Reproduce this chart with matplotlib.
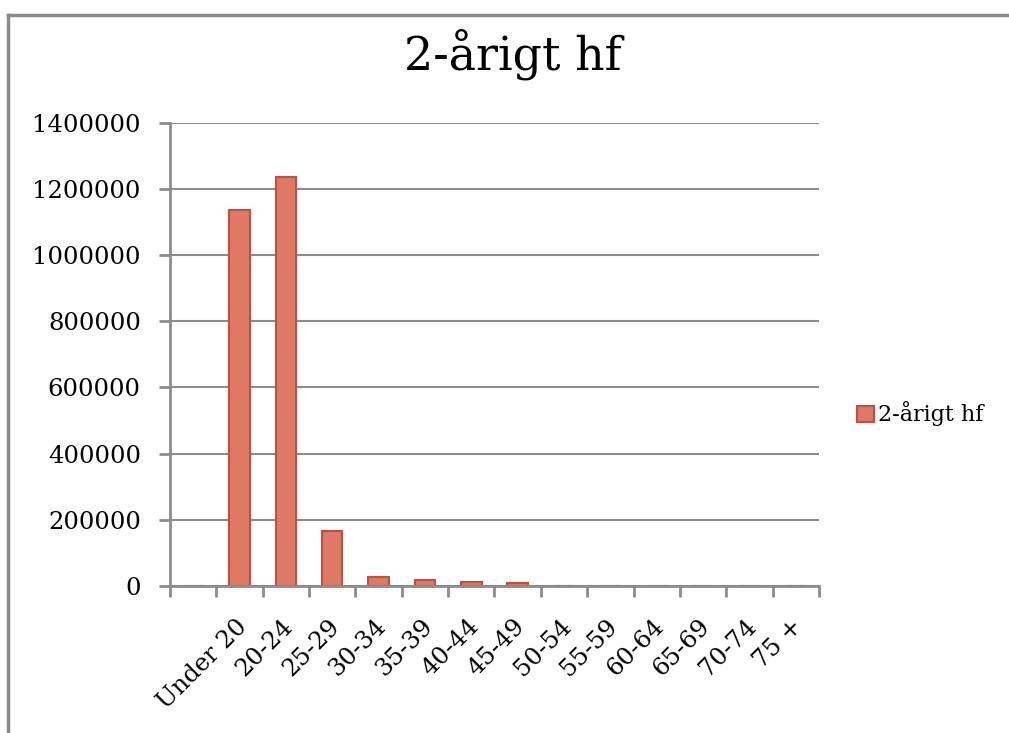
import matplotlib
matplotlib.use("Agg")
import matplotlib.pyplot as plt
from matplotlib.lines import Line2D
from matplotlib.patches import Patch

categories = ["", "Under 20", "20-24", "25-29", "30-34", "35-39", "40-44", "45-49",
              "50-54", "55-59", "60-64", "65-69", "70-74", "75 +"]
values = [0, 1136000, 1236000, 166000, 28000, 17000, 11000, 9000, 0, 0, 0, 0, 0, 0]
yticks = [0, 200000, 400000, 600000, 800000, 1000000, 1200000, 1400000]
series_name = "2-årigt hf"
title = "2-årigt hf"

FONT = ["DejaVu Serif"]
plt.rcParams["font.family"] = FONT

W, H = 1009, 733
fig = plt.figure(figsize=(W / 100, H / 100), dpi=100)
fig.patch.set_facecolor("white")

left, right, top, bottom = 170, 819, 122.7, 586
ax = fig.add_axes([left / W, 1 - bottom / H, (right - left) / W, (bottom - top) / H])

n = len(categories)
x = list(range(n))
fill = "#E07866"
edge = "#BD533F"
ax.bar(x, values, width=0.44, color=fill, edgecolor=edge, linewidth=1.5, zorder=2)

ax.set_xlim(-0.5, n - 0.5)
ax.set_ylim(0, 1400000)
ax.set_yticks(yticks)
ax.set_yticklabels([str(v) for v in yticks], fontsize=17.5)

grid_c = "#8C8C8C"
ax.grid(axis="y", color=grid_c, linewidth=1.5, zorder=0)
ax.set_axisbelow(True)

for s in ["top", "right"]:
    ax.spines[s].set_visible(False)
for s in ["left", "bottom"]:
    ax.spines[s].set_color(grid_c)
    ax.spines[s].set_linewidth(2)
    ax.spines[s].set_zorder(3)

# x ticks at category boundaries
ax.set_xticks([i - 0.5 for i in range(n + 1)])
ax.set_xticklabels([])
ax.tick_params(axis="x", length=8, width=2, color=grid_c)
ax.tick_params(axis="y", length=8, width=2, color=grid_c, pad=13)

for i, lab in enumerate(categories):
    if lab:
        ax.text(i + 0.08, -0.08, lab, transform=ax.get_xaxis_transform(),
                rotation=45, ha="right", va="center", rotation_mode="anchor",
                fontsize=17.5)

fig.text(513 / W, 1 - 70 / H, title, ha="center", va="baseline", fontsize=33)

handles = [Patch(facecolor=fill, edgecolor=edge, linewidth=1.5, label=series_name)]
fig.legend(handles=handles, loc="center left", bbox_to_anchor=(857 / W, 1 - 414 / H),
           frameon=False, fontsize=16, handlelength=0.75, handleheight=0.75,
           handletextpad=0.2, borderaxespad=0, borderpad=0)

# outer chart frame (partially visible)
fig.add_artist(Line2D([8 / W, 1.0], [1 - 15 / H, 1 - 15 / H], transform=fig.transFigure,
                      color="#8A8A8A", linewidth=2.5))
fig.add_artist(Line2D([8 / W, 8 / W], [1 - 15 / H, 0], transform=fig.transFigure,
                      color="#8A8A8A", linewidth=2.5))

fig.savefig("out.png", dpi=100)
